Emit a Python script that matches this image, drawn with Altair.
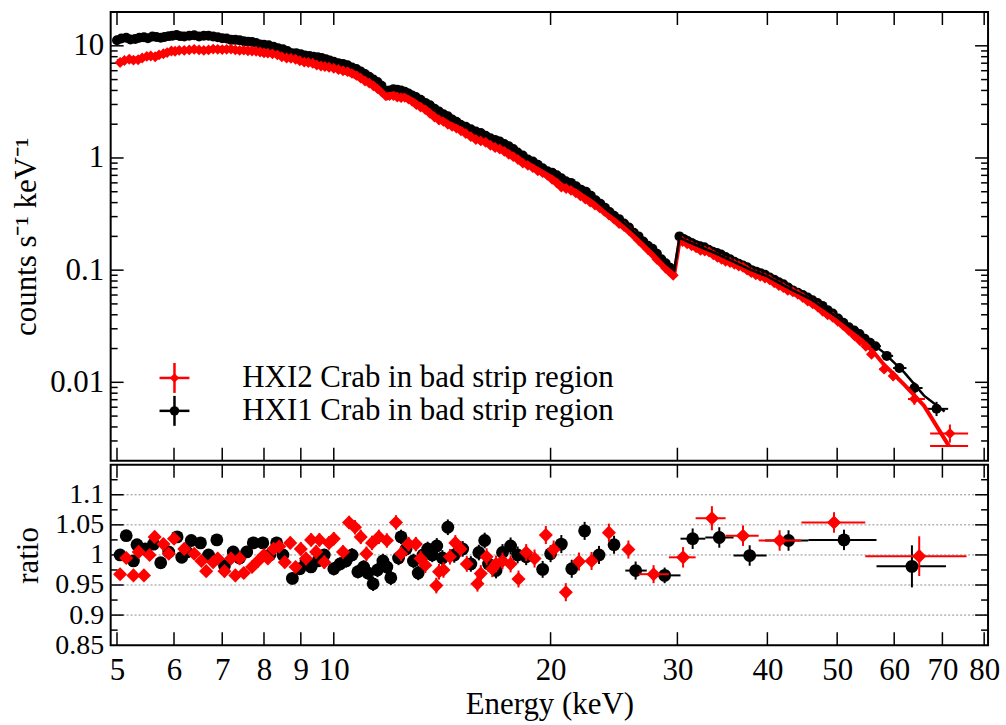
import altair as alt
import pandas as pd

# ---------------- top panel: spectra, (energy keV, counts s^-1 keV^-1) ----------------
HXI1_SPEC = [
    (5.0, 11.2), (5.07, 11.6), (5.15, 11.8), (5.22, 11.4), (5.3, 11.5), (5.37, 11.8), (5.45, 11.9),
    (5.52, 11.7), (5.6, 12.1), (5.67, 12.0), (5.75, 11.8), (5.82, 12.0), (5.9, 12.2), (5.97, 12.3),
    (6.05, 12.5), (6.12, 12.2), (6.2, 12.1), (6.3, 12.3), (6.4, 12.4), (6.5, 12.1), (6.6, 12.3),
    (6.7, 12.3), (6.8, 12.1), (6.9, 11.9), (7.0, 11.7), (7.1, 11.6), (7.2, 11.3), (7.3, 11.3),
    (7.4, 11.2), (7.5, 11.0), (7.6, 10.9), (7.7, 10.8), (7.8, 10.6), (7.9, 10.3), (8.0, 10.2),
    (8.12, 10.1), (8.25, 9.8), (8.37, 9.5), (8.5, 9.3), (8.62, 9.0), (8.75, 8.6), (8.87, 8.6),
    (9.0, 8.4), (9.12, 8.2), (9.25, 8.1), (9.37, 8.0), (9.5, 7.9), (9.62, 7.8), (9.75, 7.6),
    (9.87, 7.4), (10.0, 7.2), (10.15, 7.0), (10.3, 6.9), (10.45, 6.7), (10.6, 6.4), (10.75, 6.2),
    (10.9, 5.9), (11.05, 5.6), (11.2, 5.3), (11.35, 5.0), (11.5, 4.75), (11.65, 4.4), (11.8, 3.95),
    (11.95, 4.0), (12.1, 4.1), (12.25, 4.05), (12.4, 4.0), (12.55, 3.9), (12.7, 3.75), (12.85, 3.6),
    (13.0, 3.5), (13.2, 3.3), (13.4, 3.1), (13.6, 2.95), (13.8, 2.75), (14.0, 2.6), (14.2, 2.45),
    (14.4, 2.35), (14.6, 2.2), (14.8, 2.1), (15.0, 1.98), (15.25, 1.9), (15.5, 1.8), (15.75, 1.72),
    (16.0, 1.67), (16.25, 1.58), (16.5, 1.5), (16.75, 1.45), (17.0, 1.4), (17.25, 1.33), (17.5, 1.27),
    (17.75, 1.2), (18.0, 1.12), (18.3, 1.05), (18.6, 0.97), (18.9, 0.93), (19.2, 0.87), (19.5, 0.81),
    (19.8, 0.76), (20.1, 0.74), (20.4, 0.7), (20.7, 0.66), (21.0, 0.62), (21.35, 0.6), (21.7, 0.56),
    (22.05, 0.52), (22.4, 0.5), (22.75, 0.46), (23.1, 0.42), (23.45, 0.39), (23.8, 0.36),
    (24.15, 0.33), (24.5, 0.305), (24.9, 0.285), (25.3, 0.26), (25.7, 0.24), (26.1, 0.215),
    (26.5, 0.2), (26.9, 0.18), (27.3, 0.165), (27.7, 0.155), (28.1, 0.14), (28.5, 0.125),
    (28.9, 0.115), (29.3, 0.105), (30.2, 0.2), (30.6, 0.19), (31.0, 0.182), (31.4, 0.175),
    (31.8, 0.168), (32.25, 0.163), (32.7, 0.16), (33.15, 0.152), (33.6, 0.146), (34.05, 0.142),
    (34.5, 0.138), (35.0, 0.131), (35.5, 0.125), (36.0, 0.119), (36.5, 0.114), (37.0, 0.11),
    (37.5, 0.106), (38.05, 0.1), (38.6, 0.097), (39.15, 0.094), (39.7, 0.091), (40.3, 0.086),
    (40.9, 0.082), (41.5, 0.078), (42.1, 0.075), (42.75, 0.07), (43.4, 0.066), (44.1, 0.063),
    (44.8, 0.06), (45.5, 0.057), (46.2, 0.054), (46.95, 0.051), (47.7, 0.048), (48.5, 0.044),
    (49.3, 0.041), (50.15, 0.037), (51.0, 0.034), (51.9, 0.031), (52.8, 0.029), (53.7, 0.027),
    (54.6, 0.0245), (55.55, 0.0225), (56.5, 0.021), (58.6, 0.0172), (61.0, 0.0134), (64.0, 0.0089),
    (68.7, 0.0058)]
HXI2_SPEC = [
    (5.05, 7.1), (5.12, 7.4), (5.2, 7.6), (5.27, 7.45), (5.35, 7.5), (5.42, 7.8), (5.5, 8.05),
    (5.57, 8.1), (5.65, 8.0), (5.72, 8.3), (5.8, 8.5), (5.87, 8.7), (5.95, 9.0), (6.02, 8.95),
    (6.1, 9.1), (6.2, 9.1), (6.3, 9.2), (6.4, 9.3), (6.5, 9.2), (6.6, 9.1), (6.7, 9.2), (6.8, 9.35),
    (6.9, 9.3), (7.0, 9.25), (7.1, 9.3), (7.2, 9.35), (7.3, 9.2), (7.4, 9.1), (7.5, 9.15), (7.6, 9.05),
    (7.7, 9.0), (7.8, 8.95), (7.9, 8.8), (8.0, 8.65), (8.1, 8.6), (8.22, 8.5), (8.35, 8.3),
    (8.47, 8.0), (8.6, 7.8), (8.72, 7.75), (8.85, 7.6), (8.97, 7.35), (9.1, 7.15), (9.22, 7.1),
    (9.35, 7.0), (9.47, 6.75), (9.6, 6.6), (9.72, 6.55), (9.85, 6.45), (10.0, 6.3), (10.15, 6.15),
    (10.3, 6.0), (10.45, 5.9), (10.6, 5.7), (10.75, 5.45), (10.9, 5.15), (11.05, 4.85), (11.2, 4.65),
    (11.35, 4.4), (11.5, 4.15), (11.65, 3.9), (11.8, 3.6), (11.95, 3.6), (12.1, 3.6), (12.25, 3.5),
    (12.4, 3.45), (12.55, 3.48), (12.7, 3.35), (12.85, 3.2), (13.02, 3.0), (13.2, 2.85), (13.4, 2.7),
    (13.6, 2.5), (13.8, 2.32), (14.0, 2.18), (14.2, 2.12), (14.4, 2.0), (14.6, 1.92), (14.8, 1.85),
    (15.02, 1.75), (15.25, 1.65), (15.5, 1.55), (15.75, 1.46), (16.0, 1.42), (16.25, 1.38),
    (16.5, 1.3), (16.75, 1.24), (17.0, 1.2), (17.25, 1.15), (17.5, 1.08), (17.75, 1.03),
    (18.02, 0.97), (18.3, 0.9), (18.6, 0.86), (18.9, 0.82), (19.2, 0.77), (19.5, 0.74), (19.8, 0.7),
    (20.1, 0.645), (20.4, 0.6), (20.7, 0.55), (21.02, 0.535), (21.35, 0.515), (21.68, 0.49),
    (22.0, 0.46), (22.35, 0.43), (22.7, 0.405), (23.05, 0.38), (23.4, 0.36), (23.75, 0.335),
    (24.1, 0.31), (24.5, 0.285), (24.9, 0.26), (25.3, 0.245), (25.7, 0.225), (26.1, 0.205),
    (26.5, 0.185), (26.9, 0.168), (27.3, 0.153), (27.7, 0.14), (28.1, 0.125), (28.5, 0.115),
    (28.9, 0.104), (29.25, 0.097), (29.6, 0.09), (30.5, 0.18), (30.95, 0.172), (31.4, 0.165),
    (31.85, 0.158), (32.3, 0.15), (32.75, 0.148), (33.2, 0.145), (33.65, 0.137), (34.1, 0.13),
    (34.55, 0.125), (35.0, 0.12), (35.5, 0.117), (36.0, 0.113), (36.5, 0.109), (37.0, 0.106),
    (37.5, 0.1), (38.0, 0.095), (38.55, 0.091), (39.1, 0.088), (39.7, 0.085), (40.3, 0.082),
    (40.9, 0.077), (41.5, 0.073), (42.1, 0.07), (42.7, 0.066), (43.4, 0.064), (44.1, 0.061),
    (44.8, 0.057), (45.5, 0.053), (46.25, 0.05), (47.0, 0.047), (47.75, 0.043), (48.5, 0.04),
    (49.3, 0.038), (50.1, 0.035), (51.0, 0.032), (51.9, 0.029), (52.85, 0.026), (53.8, 0.0235),
    (54.8, 0.021), (55.8, 0.0178), (58.1, 0.0131), (59.8, 0.0114), (64.0, 0.0071), (71.7, 0.0035)]

# error bars of the sparse high-energy spectral bins
HXI1_HI_E = [56.5, 58.6, 61.0, 64.0, 68.7]
HXI1_HI_RATE = [0.021, 0.0172, 0.0134, 0.0089, 0.0058]
HXI1_HI_ELO = [55.6, 57.6, 59.8, 62.4, 66.4]
HXI1_HI_EHI = [57.5, 59.8, 62.4, 65.7, 71.3]
HXI1_HI_RLO = [0.0197, 0.0159, 0.0122, 0.0079, 0.0050]
HXI1_HI_RHI = [0.0224, 0.0186, 0.0147, 0.0100, 0.0067]
HXI2_HI_E = [55.8, 58.1, 59.8, 64.0, 71.7]
HXI2_HI_RATE = [0.0178, 0.0131, 0.0114, 0.0071, 0.0035]
HXI2_HI_ELO = [55.0, 57.2, 59.0, 62.7, 67.3]
HXI2_HI_EHI = [56.7, 59.0, 60.7, 66.2, 76.0]
HXI2_HI_RLO = [0.0166, 0.0121, 0.0104, 0.0063, 0.0029]
HXI2_HI_RHI = [0.0190, 0.0142, 0.0125, 0.0080, 0.0042]

# model curves
HXI1_MODEL_E = [5.0, 5.5, 6.0, 6.5, 7.0, 7.5, 8.0, 8.5, 9.0, 9.5, 10.0, 10.5, 11.0, 11.5, 11.85, 12.15,
                12.6, 13.0, 13.5, 14.0, 14.5, 15.0, 16.0, 17.0, 18.0, 19.0, 20.0, 21.0, 22.0, 23.0,
                24.0, 25.0, 26.0, 27.0, 28.0, 29.0, 29.7, 30.2, 31.0, 32.0, 34.0, 36.0, 38.0, 40.0,
                43.0, 46.0, 50.0, 54.0, 58.0, 62.0, 66.0, 70.5]
HXI1_MODEL = [11.3, 11.9, 12.2, 12.1, 11.6, 10.9, 10.0, 9.2, 8.5, 7.9, 7.3, 6.6, 5.8, 4.8, 3.95, 4.05,
              3.85, 3.45, 3.0, 2.55, 2.2, 1.98, 1.65, 1.38, 1.12, 0.9, 0.74, 0.63, 0.52, 0.43, 0.34,
              0.28, 0.225, 0.18, 0.143, 0.113, 0.1, 0.195, 0.18, 0.165, 0.14, 0.118, 0.1, 0.088,
              0.068, 0.055, 0.038, 0.026, 0.0185, 0.0122, 0.0076, 0.0055]
HXI2_MODEL_E = [5.0, 5.5, 6.0, 6.5, 7.0, 7.5, 8.0, 8.5, 9.0, 9.5, 10.0, 10.5, 11.0, 11.5, 11.85, 12.15,
                12.6, 13.0, 13.5, 14.0, 14.5, 15.0, 16.0, 17.0, 18.0, 19.0, 20.0, 21.0, 22.0, 23.0,
                24.0, 25.0, 26.0, 27.0, 28.0, 29.0, 29.7, 30.2, 31.0, 32.0, 34.0, 36.0, 38.0, 40.0,
                43.0, 46.0, 50.0, 54.0, 56.0, 58.0, 62.0, 66.0, 71.5]
HXI2_MODEL = [7.3, 8.0, 8.9, 9.3, 9.5, 9.3, 8.7, 8.0, 7.3, 6.7, 6.2, 5.6, 4.9, 4.1, 3.4, 3.6, 3.4,
              3.05, 2.65, 2.25, 1.95, 1.75, 1.45, 1.2, 0.98, 0.79, 0.65, 0.55, 0.46, 0.38, 0.31,
              0.255, 0.205, 0.165, 0.13, 0.103, 0.092, 0.18, 0.168, 0.155, 0.132, 0.112, 0.096,
              0.083, 0.065, 0.05, 0.035, 0.023, 0.019, 0.0145, 0.0095, 0.0062, 0.0027]
HXI2_MODEL_STEP_ELO = [67.3]
HXI2_MODEL_STEP_EHI = [76.0]
HXI2_MODEL_STEP = [0.0027]

# ---------------- bottom panel: data / model ratio ----------------
HXI1_RATIO_E = [5.05, 5.15, 5.27, 5.33, 5.47, 5.62, 5.75, 5.9, 6.06, 6.15, 6.25, 6.34, 6.53, 6.7, 6.88,
                7.05, 7.25, 7.4, 7.57, 7.73, 7.97, 8.15, 8.33, 8.5, 8.76, 8.97, 9.15, 9.3, 9.5, 9.7,
                10.0, 10.2, 10.4, 10.6, 10.8, 11.0, 11.15, 11.34, 11.5, 11.7, 11.85, 12.0, 12.3,
                12.4, 12.6, 12.9, 13.1, 13.3, 13.5, 13.7, 13.9, 14.15, 14.4, 14.7, 15.1, 15.5, 15.9,
                16.2, 16.4, 16.8, 17.15, 17.6, 18.0, 18.5, 19.5, 20.0, 20.7, 21.4, 22.3, 23.35, 24.5,
                26.25, 28.8, 31.5, 34.3, 37.8, 42.8, 51.1, 63.5]
HXI1_RATIO = [1.000, 1.032, 0.990, 1.017, 1.010, 1.018, 0.987, 1.005, 1.030, 0.996, 1.005, 1.024,
              1.020, 1.000, 1.025, 0.982, 1.005, 0.995, 1.005, 1.020, 1.020, 1.000, 1.020, 1.000,
              0.961, 0.977, 0.990, 0.980, 0.990, 1.000, 0.977, 0.985, 0.990, 1.000, 0.972, 0.980,
              0.970, 0.952, 0.975, 0.990, 0.980, 0.962, 0.995, 1.030, 1.010, 0.990, 0.970, 1.000,
              1.010, 1.000, 1.015, 0.995, 1.046, 1.000, 1.010, 0.985, 1.004, 1.024, 0.985, 0.974,
              1.004, 1.015, 1.000, 0.997, 0.976, 1.002, 1.018, 0.977, 1.040, 1.000, 1.017, 0.974,
              0.966, 1.027, 1.029, 0.999, 1.024, 1.025, 0.981]
HXI1_RATIO_ERR = [0.009, 0.009, 0.009, 0.009, 0.009, 0.009, 0.009, 0.009, 0.009, 0.009,
                  0.009, 0.009, 0.009, 0.009, 0.009, 0.010, 0.010, 0.010, 0.010, 0.010,
                  0.010, 0.010, 0.010, 0.010, 0.010, 0.010, 0.010, 0.010, 0.010, 0.010,
                  0.011, 0.011, 0.011, 0.011, 0.011, 0.011, 0.011, 0.012, 0.012, 0.012,
                  0.012, 0.012, 0.012, 0.012, 0.012, 0.012, 0.012, 0.012, 0.012, 0.012,
                  0.013, 0.013, 0.013, 0.013, 0.013, 0.013, 0.013, 0.013, 0.013, 0.013,
                  0.014, 0.014, 0.014, 0.014, 0.014, 0.014, 0.015, 0.015, 0.015, 0.015,
                  0.015, 0.015, 0.013, 0.017, 0.017, 0.017, 0.017, 0.017, 0.035]
HXI1_WIDE_E = [26.25, 28.8, 31.5, 34.3, 37.8, 42.8, 51.1, 63.5]
HXI1_WIDE_R = [0.974, 0.966, 1.027, 1.029, 0.999, 1.024, 1.025, 0.981]
HXI1_WIDE_ELO = [25.4, 27.4, 30.3, 32.8, 35.9, 39.7, 45.6, 56.7]
HXI1_WIDE_EHI = [27.2, 30.3, 32.8, 35.9, 39.9, 45.6, 56.7, 70.8]

HXI2_RATIO_E = [5.05, 5.15, 5.27, 5.36, 5.45, 5.55, 5.64, 5.8, 5.9, 6.0, 6.2, 6.4, 6.55, 6.65, 6.8,
                6.9, 7.05, 7.2, 7.3, 7.4, 7.5, 7.7, 7.85, 8.0, 8.1, 8.25, 8.4, 8.55, 8.7, 8.85, 9.0,
                9.15, 9.3, 9.45, 9.55, 9.7, 9.85, 10.0, 10.3, 10.5, 10.7, 10.9, 11.1, 11.3, 11.55,
                11.85, 12.2, 12.4, 12.7, 13.0, 13.2, 13.4, 13.88, 14.0, 14.2, 14.5, 14.75, 15.0,
                15.3, 15.83, 16.0, 16.3, 16.6, 16.8, 17.15, 17.6, 18.05, 18.5, 19.0, 19.7, 20.2,
                21.0, 21.9, 22.8, 24.1, 25.65, 27.8, 30.55, 33.5, 37.0, 41.6, 49.5, 65.0]
HXI2_RATIO = [0.968, 0.995, 0.966, 1.005, 0.966, 1.000, 1.030, 1.018, 1.002, 1.027, 1.010, 1.002,
              0.990, 0.973, 0.988, 0.994, 0.973, 0.994, 0.966, 0.994, 0.970, 0.980, 0.990, 1.000,
              0.994, 1.010, 1.014, 0.988, 1.020, 0.980, 1.010, 0.994, 1.025, 1.005, 1.025, 0.988,
              1.020, 1.027, 1.005, 1.054, 1.046, 1.030, 1.002, 1.020, 1.030, 1.024, 1.054, 1.002,
              1.018, 1.018, 0.994, 0.983, 0.949, 0.972, 0.975, 0.997, 1.020, 1.010, 0.985, 0.952,
              0.969, 0.997, 0.977, 0.985, 0.990, 0.985, 0.960, 1.004, 0.994, 1.033, 1.009, 0.938,
              0.989, 0.990, 1.037, 1.009, 0.968, 0.996, 1.061, 1.032, 1.024, 1.054, 0.998]
HXI2_RATIO_ERR = [0.009, 0.009, 0.009, 0.009, 0.009, 0.009, 0.009, 0.009, 0.009, 0.009,
                  0.009, 0.009, 0.009, 0.009, 0.009, 0.010, 0.010, 0.010, 0.010, 0.010,
                  0.010, 0.010, 0.010, 0.010, 0.010, 0.010, 0.010, 0.010, 0.010, 0.010,
                  0.011, 0.011, 0.011, 0.011, 0.011, 0.011, 0.011, 0.011, 0.011, 0.011,
                  0.012, 0.012, 0.012, 0.012, 0.012, 0.012, 0.012, 0.012, 0.012, 0.012,
                  0.013, 0.013, 0.013, 0.013, 0.013, 0.013, 0.013, 0.013, 0.013, 0.013,
                  0.014, 0.014, 0.014, 0.014, 0.014, 0.014, 0.014, 0.014, 0.015, 0.015,
                  0.015, 0.015, 0.015, 0.015, 0.015, 0.015, 0.015, 0.017, 0.020, 0.017,
                  0.017, 0.017, 0.033]
HXI2_WIDE_E = [27.8, 30.55, 33.5, 37.0, 41.6, 49.5, 65.0]
HXI2_WIDE_R = [0.968, 0.996, 1.061, 1.032, 1.024, 1.054, 0.998]
HXI2_WIDE_ELO = [26.5, 29.2, 31.8, 35.0, 38.9, 44.6, 54.7]
HXI2_WIDE_EHI = [29.2, 31.8, 35.0, 38.9, 44.6, 54.7, 75.6]

# ---------------- axes / ticks ----------------
X_TICKS = [5, 6, 7, 8, 9, 10, 20, 30, 40, 50, 60, 70, 80]
Y_TOP_MAJOR = [0.01, 0.1, 1, 10]
Y_TOP_MINOR = [0.003, 0.004, 0.005, 0.006, 0.007, 0.008, 0.009,
               0.02, 0.03, 0.04, 0.05, 0.06, 0.07, 0.08, 0.09,
               0.2, 0.3, 0.4, 0.5, 0.6, 0.7, 0.8, 0.9,
               2, 3, 4, 5, 6, 7, 8, 9]
Y_BOT_LABELS = [0.85, 0.9, 0.95, 1.0, 1.05, 1.1]
Y_BOT_MAJOR = [0.9, 0.95, 1.0, 1.05, 1.1]
Y_BOT_MINOR = [0.875, 0.925, 0.975, 1.025, 1.075, 1.125]
GRID_VALUES = [0.9, 0.95, 1.0, 1.05, 1.1]
LEGEND_LABELS = ["HXI2 Crab in bad strip region", "HXI1 Crab in bad strip region"]

W, H_TOP, H_BOT = 880, 450, 181
MAJ, MIN = 13, 7
FONT = "Liberation Serif"
FS = 31
FS_RATIO = 28
RED = "#ff0000"
BLACK = "#000000"

XS = alt.Scale(type="log", domain=[4.9, 81], nice=False)
YS_TOP = alt.Scale(type="log", domain=[0.002, 20], nice=False)
YS_BOT = alt.Scale(type="linear", domain=[0.85, 1.15], nice=False, zero=False)

Y_TOP_AXIS = alt.Axis(values=Y_TOP_MAJOR, format="~g", ticks=False, tickSize=0, domain=False,
                      grid=False, labelPadding=7, labelFlush=False, labelOverlap=False,
                      title="counts s⁻¹ keV⁻¹", titlePadding=7)
Y_BOT_AXIS = alt.Axis(values=Y_BOT_LABELS, format="~g", ticks=False, tickSize=0, domain=False,
                      grid=False, labelPadding=7, labelFlush=False, labelOverlap=False,
                      labelFontSize=FS_RATIO, title="ratio", titlePadding=10)
X_BOT_AXIS = alt.Axis(values=X_TICKS, format="d", ticks=False, tickSize=0, domain=False, grid=False,
                      labelPadding=10, labelFlush=False, labelOverlap=False,
                      title="Energy (keV)", titlePadding=5)


def xq(field, panel):
    return alt.X(field, type="quantitative", scale=XS,
                 axis=None if panel == "top" else X_BOT_AXIS)


def yq(field, panel):
    if panel == "top":
        return alt.Y(field, type="quantitative", scale=YS_TOP, axis=Y_TOP_AXIS)
    return alt.Y(field, type="quantitative", scale=YS_BOT, axis=Y_BOT_AXIS)


def edge_ticks(panel, height, yvals_major, yvals_minor):
    layers = []
    tx = pd.DataFrame({"t": X_TICKS})
    rule = dict(color=BLACK, strokeWidth=1.5)
    layers.append(alt.Chart(tx).mark_rule(**rule).encode(
        x=xq("t", panel), y=alt.value(0), y2=alt.value(MAJ)))
    layers.append(alt.Chart(tx).mark_rule(**rule).encode(
        x=xq("t", panel), y=alt.value(height), y2=alt.value(height - MAJ)))
    for vals, ln in ((yvals_major, MAJ), (yvals_minor, MIN)):
        ty = pd.DataFrame({"v": vals})
        layers.append(alt.Chart(ty).mark_rule(**rule).encode(
            y=yq("v", panel), x=alt.value(0), x2=alt.value(ln)))
        layers.append(alt.Chart(ty).mark_rule(**rule).encode(
            y=yq("v", panel), x=alt.value(W), x2=alt.value(W - ln)))
    return layers


# ---------------- top panel ----------------
top_layers = edge_ticks("top", H_TOP, Y_TOP_MAJOR, Y_TOP_MINOR)

for E, R, ELO, EHI, RLO, RHI, col in (
        (HXI1_HI_E, HXI1_HI_RATE, HXI1_HI_ELO, HXI1_HI_EHI, HXI1_HI_RLO, HXI1_HI_RHI, BLACK),
        (HXI2_HI_E, HXI2_HI_RATE, HXI2_HI_ELO, HXI2_HI_EHI, HXI2_HI_RLO, HXI2_HI_RHI, RED)):
    d = pd.DataFrame({"E": E, "r": R, "elo": ELO, "ehi": EHI, "rlo": RLO, "rhi": RHI})
    top_layers.append(alt.Chart(d).mark_rule(color=col, strokeWidth=2).encode(
        x=xq("E", "top"), y=yq("rlo", "top"), y2=alt.Y2("rhi")))
    top_layers.append(alt.Chart(d).mark_rule(color=col, strokeWidth=2).encode(
        x=xq("elo", "top"), x2=alt.X2("ehi"), y=yq("r", "top")))

d1 = pd.DataFrame(HXI1_SPEC, columns=["E", "rate"])
d2 = pd.DataFrame(HXI2_SPEC, columns=["E", "rate"])
top_layers.append(alt.Chart(d1).mark_point(shape="circle", filled=True, opacity=1, size=100,
                                            color=BLACK).encode(x=xq("E", "top"), y=yq("rate", "top")))
top_layers.append(alt.Chart(d2).mark_point(shape="diamond", filled=True, opacity=1, size=120,
                                            color=RED).encode(x=xq("E", "top"), y=yq("rate", "top")))

m2 = pd.DataFrame({"E": HXI2_MODEL_E, "m": HXI2_MODEL})
m1 = pd.DataFrame({"E": HXI1_MODEL_E, "m": HXI1_MODEL})
top_layers.append(alt.Chart(m2).mark_line(color=RED, strokeWidth=4).encode(
    x=xq("E", "top"), y=yq("m", "top")))
step = pd.DataFrame({"elo": HXI2_MODEL_STEP_ELO, "ehi": HXI2_MODEL_STEP_EHI, "m": HXI2_MODEL_STEP})
top_layers.append(alt.Chart(step).mark_rule(color=RED, strokeWidth=2).encode(
    x=xq("elo", "top"), x2=alt.X2("ehi"), y=yq("m", "top")))
top_layers.append(alt.Chart(m1).mark_line(color=BLACK, strokeWidth=2.5).encode(
    x=xq("E", "top"), y=yq("m", "top")))

# legend (manual, drawn inside the plot)
for i, (col, shape, size) in enumerate(((RED, "diamond", 90), (BLACK, "circle", 90))):
    ly = 367 + 33 * i
    ld = pd.DataFrame({"label": [LEGEND_LABELS[i]]})
    top_layers.append(alt.Chart(ld).mark_rule(color=col, strokeWidth=2.5).encode(
        x=alt.value(49), x2=alt.value(79), y=alt.value(ly)))
    top_layers.append(alt.Chart(ld).mark_rule(color=col, strokeWidth=2.5).encode(
        x=alt.value(64), y=alt.value(ly - 15), y2=alt.value(ly + 15)))
    top_layers.append(alt.Chart(ld).mark_point(shape=shape, filled=True, opacity=1, size=size,
                                                color=col).encode(x=alt.value(64), y=alt.value(ly)))
    top_layers.append(alt.Chart(ld).mark_text(align="left", baseline="middle", font=FONT,
                                               fontSize=FS, color=BLACK).encode(
        x=alt.value(132), y=alt.value(ly), text="label:N"))

top = alt.layer(*top_layers).properties(width=W, height=H_TOP)

# ---------------- bottom panel ----------------
bot_layers = []
gd = pd.DataFrame({"g": GRID_VALUES})
bot_layers.append(alt.Chart(gd).mark_rule(color="#8c8c8c", strokeWidth=1, strokeDash=[2, 2]).encode(
    y=yq("g", "bot"), x=alt.value(0), x2=alt.value(W)))
bot_layers += edge_ticks("bot", H_BOT, Y_BOT_MAJOR, Y_BOT_MINOR)

for E, R, ERR, WE, WR, WLO, WHI, col, shape, size in (
        (HXI1_RATIO_E, HXI1_RATIO, HXI1_RATIO_ERR, HXI1_WIDE_E, HXI1_WIDE_R, HXI1_WIDE_ELO,
         HXI1_WIDE_EHI, BLACK, "circle", 165),
        (HXI2_RATIO_E, HXI2_RATIO, HXI2_RATIO_ERR, HXI2_WIDE_E, HXI2_WIDE_R, HXI2_WIDE_ELO,
         HXI2_WIDE_EHI, RED, "diamond", 200)):
    d = pd.DataFrame({"E": E, "r": R, "err": ERR})
    d["lo"] = [r - e for r, e in zip(R, ERR)]
    d["hi"] = [r + e for r, e in zip(R, ERR)]
    w = pd.DataFrame({"E": WE, "r": WR, "elo": WLO, "ehi": WHI})
    bot_layers.append(alt.Chart(d).mark_rule(color=col, strokeWidth=2).encode(
        x=xq("E", "bot"), y=yq("lo", "bot"), y2=alt.Y2("hi")))
    bot_layers.append(alt.Chart(w).mark_rule(color=col, strokeWidth=2).encode(
        x=xq("elo", "bot"), x2=alt.X2("ehi"), y=yq("r", "bot")))
    bot_layers.append(alt.Chart(d).mark_point(shape=shape, filled=True, opacity=1, size=size,
                                               color=col).encode(x=xq("E", "bot"), y=yq("r", "bot")))

bottom = alt.layer(*bot_layers).properties(width=W, height=H_BOT)

chart = alt.vconcat(top, bottom, spacing=0).configure_view(
    stroke=BLACK, strokeWidth=2
).configure_axis(
    labelFont=FONT, labelFontSize=FS, labelColor=BLACK,
    titleFont=FONT, titleFontSize=FS, titleFontWeight="normal", titleColor=BLACK
).properties(
    padding={"left": 9, "top": 9, "right": 5, "bottom": 5},
    background="white"
)

chart.save("out.html", embed_options={"renderer": "svg", "actions": False})
